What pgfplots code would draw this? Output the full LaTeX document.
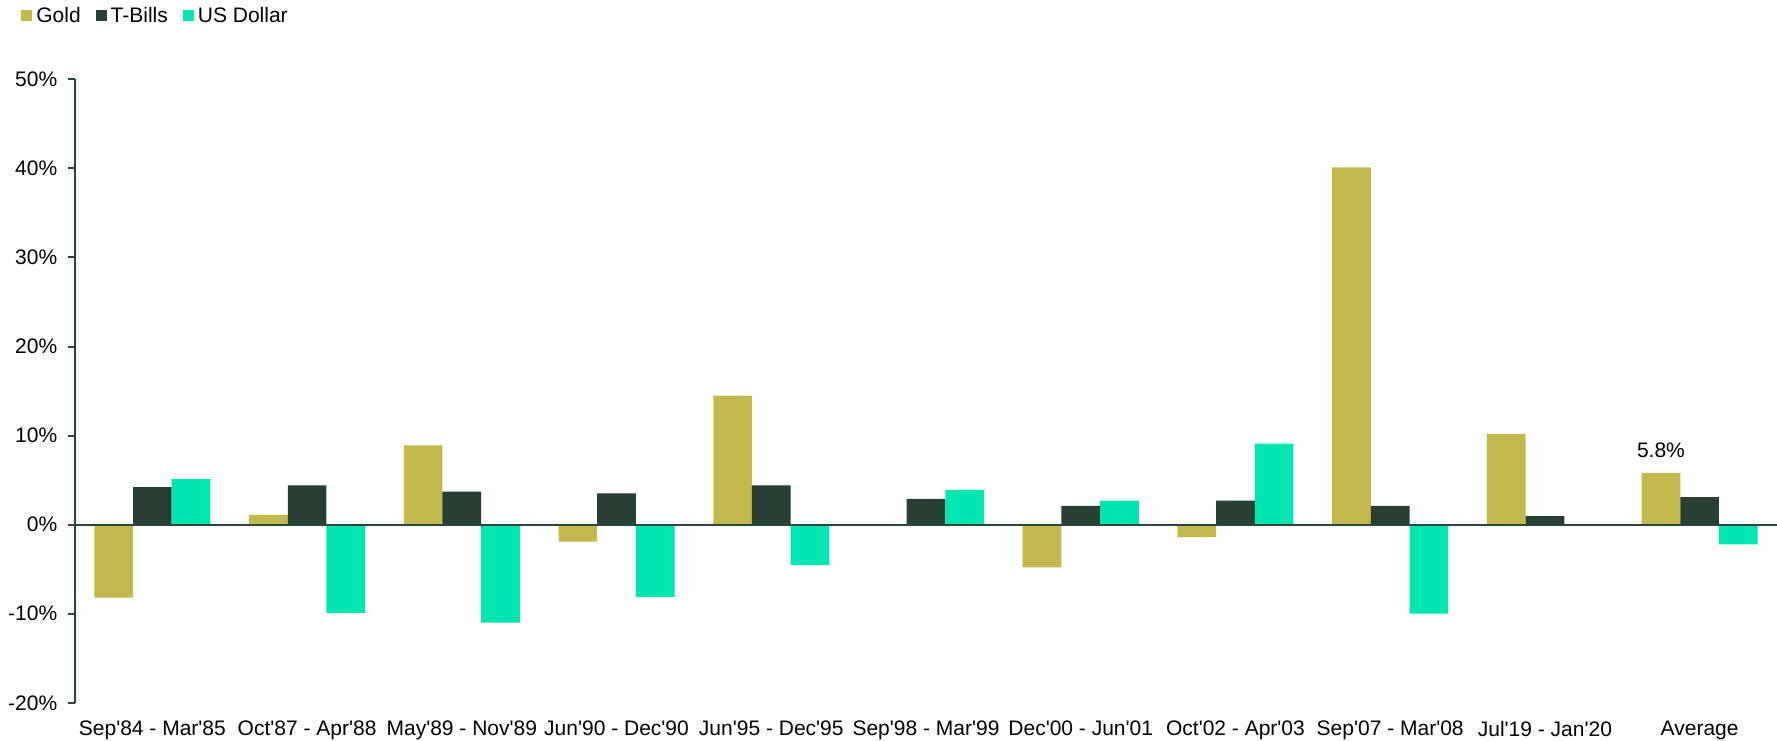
\documentclass[border=0pt]{standalone}
\usepackage{fontspec}
\setmainfont{Liberation Sans}
\usepackage{pgfplots}
\pgfplotsset{compat=1.18}
\usetikzlibrary{calc}
\definecolor{gold}{RGB}{195,184,75}
\definecolor{tbill}{RGB}{40,63,51}
\definecolor{usd}{RGB}{0,230,176}
\definecolor{axc}{RGB}{45,70,60}
\newcommand\ap{\textquotesingle}
\begin{document}
\fontsize{10.5bp}{12.6bp}\selectfont
\begin{tikzpicture}
\begin{axis}[
  scale only axis, width=850.85bp, height=311.7bp,
  xmin=-0.5, xmax=10.5, ymin=-20, ymax=50,
  axis y line*=left, axis x line*=bottom,
  x axis line style={draw=none},
  y axis line style={axc, line width=1bp},
  axis on top,
  tick align=outside, major tick length=3.5bp,
  ytick={-20,-10,0,10,20,30,40,50},
  yticklabels={-20\%,-10\%,0\%,10\%,20\%,30\%,40\%,50\%},
  ytick style={axc, line width=1bp},
  xtick={0,...,10},
  xticklabels={Sep\ap84 - Mar\ap85, Oct\ap87 - Apr\ap88, May\ap89 - Nov\ap89, Jun\ap90 - Dec\ap90, Jun\ap95 - Dec\ap95, Sep\ap98 - Mar\ap99, Dec\ap00 - Jun\ap01, Oct\ap02 - Apr\ap03, Sep\ap07 - Mar\ap08, Jul\ap19 - Jan\ap20, Average},
  xtick style={draw=none},
  xticklabel style={font=\fontsize{10.5bp}{12.6bp}\selectfont, yshift=-2bp},
  yticklabel style={font=\fontsize{10.5bp}{12.6bp}\selectfont, xshift=-1.7bp},
  extra y ticks={0}, extra y tick labels={},
  extra y tick style={grid=major, major grid style={axc, line width=1bp}, tick style={draw=none}},
  legend style={at={(axis description cs:0,1)}, anchor=west, xshift=-27bp, yshift=31.65bp,
    draw=none, fill=none, inner sep=0pt, legend columns=-1,
    font=\fontsize{10.5bp}{12.6bp}\selectfont,
    /tikz/every even column/.append style={column sep=5.5bp}},
  legend cell align=left,
]
\addplot[ybar, bar width=0.25, bar shift=-0.25, fill=gold, draw=none,
  legend image code/.code={\fill[gold] (0bp,-2.75bp) rectangle (5.5bp,2.75bp);}]
  coordinates {(0,-8.2) (1,1.1) (2,8.9) (3,-1.9) (4,14.5) (5,0) (6,-4.8) (7,-1.4) (8,40.1) (9,10.2) (10,5.8)};
\addlegendentry{Gold}
\addplot[ybar, bar width=0.25, bar shift=0, fill=tbill, draw=none,
  legend image code/.code={\fill[tbill] (0bp,-2.75bp) rectangle (5.5bp,2.75bp);}]
  coordinates {(0,4.2) (1,4.4) (2,3.7) (3,3.5) (4,4.4) (5,2.9) (6,2.1) (7,2.7) (8,2.1) (9,0.95) (10,3.1)};
\addlegendentry{T-Bills}
\addplot[ybar, bar width=0.25, bar shift=0.25, fill=usd, draw=none,
  legend image code/.code={\fill[usd] (0bp,-2.75bp) rectangle (5.5bp,2.75bp);}]
  coordinates {(0,5.1) (1,-9.9) (2,-11.0) (3,-8.1) (4,-4.55) (5,3.9) (6,2.7) (7,9.1) (8,-10.0) (9,-0.1) (10,-2.2)};
\addlegendentry{US Dollar}
\addplot[ybar, bar width=0.25, bar shift=-0.25, draw=none, fill=none, forget plot,
  nodes near coords={5.8\%},
  nodes near coords style={font=\fontsize{10.5bp}{12.6bp}\selectfont, text=black, yshift=4bp, xshift=-19.34bp}]
  coordinates {(10,5.8)};
\end{axis}
\pgfresetboundingbox
\path[use as bounding box] ($(current axis.south west)+(-37.5bp,-18.65bp)$) rectangle ($(current axis.north east)+(0,39.65bp)$);
\end{tikzpicture}
\end{document}
